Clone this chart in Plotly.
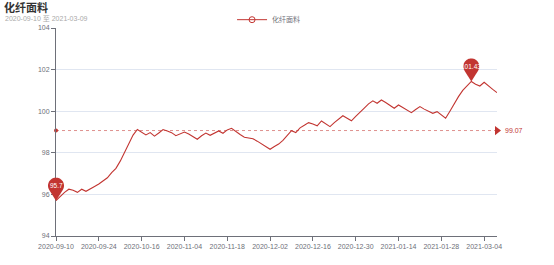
import numpy as np
import plotly.graph_objects as go

TITLE = "化纤面料"
SUBTITLE = "2020-09-10 至 2021-03-09"
SERIES_NAME = "化纤面料"

dates = [
    "2020-09-10", "2020-09-11", "2020-09-14", "2020-09-15", "2020-09-16", "2020-09-17", "2020-09-18",
    "2020-09-21", "2020-09-22", "2020-09-23", "2020-09-24",
    "2020-09-25", "2020-09-28", "2020-09-29", "2020-09-30", "2020-10-09", "2020-10-12", "2020-10-13",
    "2020-10-14", "2020-10-15", "2020-10-16",
    "2020-10-19", "2020-10-21", "2020-10-23", "2020-10-26", "2020-10-27", "2020-10-28", "2020-10-30",
    "2020-11-02", "2020-11-03", "2020-11-04",
    "2020-11-05", "2020-11-06", "2020-11-09", "2020-11-10", "2020-11-11", "2020-11-12", "2020-11-13",
    "2020-11-16", "2020-11-17", "2020-11-18",
    "2020-11-19", "2020-11-20", "2020-11-23", "2020-11-24", "2020-11-25", "2020-11-26", "2020-11-27",
    "2020-11-30", "2020-12-01", "2020-12-02",
    "2020-12-03", "2020-12-04", "2020-12-07", "2020-12-08", "2020-12-09", "2020-12-10", "2020-12-11",
    "2020-12-14", "2020-12-15", "2020-12-16",
    "2020-12-17", "2020-12-18", "2020-12-21", "2020-12-22", "2020-12-23", "2020-12-24", "2020-12-25",
    "2020-12-28", "2020-12-29", "2020-12-30",
    "2020-12-31", "2021-01-04", "2021-01-05", "2021-01-06", "2021-01-07", "2021-01-08", "2021-01-11",
    "2021-01-12", "2021-01-13", "2021-01-14",
    "2021-01-15", "2021-01-18", "2021-01-19", "2021-01-20", "2021-01-21", "2021-01-22", "2021-01-25",
    "2021-01-26", "2021-01-27", "2021-01-28",
    "2021-01-29", "2021-02-01", "2021-02-02", "2021-02-03", "2021-02-04", "2021-02-05", "2021-02-08",
    "2021-02-09", "2021-02-10", "2021-03-04",
    "2021-03-05", "2021-03-08", "2021-03-09",
]

values = [
    95.70, 95.92, 96.10, 96.25, 96.20, 96.10, 96.25, 96.15, 96.25, 96.38,
    96.50, 96.65, 96.80, 97.05, 97.25, 97.60, 98.00, 98.45, 98.85, 99.12,
    99.00, 98.86, 98.97, 98.80, 98.95, 99.12, 99.05, 98.97, 98.82, 98.90,
    99.00, 98.90, 98.78, 98.65, 98.82, 98.95, 98.84, 98.93, 99.05, 98.94,
    99.10, 99.18, 99.02, 98.88, 98.75, 98.70, 98.68, 98.56, 98.42, 98.30,
    98.17, 98.30, 98.42, 98.60, 98.85, 99.06, 98.97, 99.20, 99.32, 99.45,
    99.38, 99.30, 99.53, 99.38, 99.26, 99.45, 99.62, 99.78, 99.66, 99.54,
    99.75, 99.93, 100.15, 100.35, 100.50, 100.38, 100.54, 100.42, 100.28, 100.14,
    100.30, 100.18, 100.05, 99.93, 100.08, 100.22, 100.10, 99.98, 99.90, 99.98,
    99.82, 99.66, 100.00, 100.38, 100.70, 101.00, 101.20, 101.43, 101.30, 101.21,
    101.39, 101.20, 101.05, 100.89,
]

AVG_VALUE = 99.07
y_ticks = [94, 96, 98, 100, 102, 104]
x_tick_dates = dates[::10]
Y_MIN, Y_MAX = 94, 104

RED = "#c23531"
TXT = "#6e7079"
FONT = "Liberation Sans, Noto Sans CJK SC, sans-serif"

fig = go.Figure()

# main line
fig.add_trace(go.Scatter(
    x=dates, y=values, mode="lines", line=dict(color=RED, width=1.1),
    showlegend=False, hoverinfo="skip",
))
# legend entry
fig.add_trace(go.Scatter(
    x=[None], y=[None], mode="lines+markers", name=SERIES_NAME,
    line=dict(color=RED, width=1),
    marker=dict(symbol="circle-open", size=6, color=RED, line=dict(width=1)),
))

# average mark line
fig.add_shape(type="line", xref="paper", yref="y", x0=0, x1=1, y0=AVG_VALUE, y1=AVG_VALUE,
              line=dict(color="rgba(194,53,49,0.55)", width=1, dash="dot"), layer="above")
fig.add_trace(go.Scatter(
    x=[dates[0]], y=[AVG_VALUE], mode="markers", showlegend=False, hoverinfo="skip",
    marker=dict(symbol="circle", size=4, color=RED), cliponaxis=False,
))
fig.add_trace(go.Scatter(
    x=[dates[-1]], y=[AVG_VALUE], mode="markers", showlegend=False, hoverinfo="skip",
    marker=dict(symbol="triangle-right", size=8, color=RED), cliponaxis=False,
))

annots = [
    dict(xref="paper", yref="y", x=1, y=AVG_VALUE, text=f"{AVG_VALUE:.2f}",
         showarrow=False, xanchor="left", xshift=6,
         font=dict(size=7, color=RED, family=FONT)),
]

# pin mark points (max / min)
PIN_R, PIN_D = 8.0, 15.0
def pin_path(r=PIN_R, d=PIN_D, n=48):
    phi = np.arccos(r / d)
    start = -np.pi / 2 - phi
    end = -np.pi / 2 + phi - 2 * np.pi
    angs = np.linspace(start, end, n)
    pts = ["M 0,0"]
    for a in angs:
        pts.append(f"L {r*np.cos(a):.2f},{d + r*np.sin(a):.2f}")
    pts.append("Z")
    return " ".join(pts)

n_pts = len(dates)
imin = int(np.argmin(values))
imax = int(np.argmax(values))
for idx in (imax, imin):
    px = idx / (n_pts - 1)
    py = (values[idx] - Y_MIN) / (Y_MAX - Y_MIN)
    fig.add_shape(type="path", xref="x domain", yref="y domain",
                  xsizemode="pixel", ysizemode="pixel",
                  xanchor=px, yanchor=py, path=pin_path(),
                  fillcolor=RED, line=dict(width=0), layer="above")
    annots.append(dict(xref="x", yref="y", x=dates[idx], y=values[idx], text=f"{values[idx]:g}",
                       showarrow=False, yshift=PIN_D, xanchor="center", yanchor="middle",
                       font=dict(size=6.5, color="white", family=FONT)))

annots += [
    dict(xref="paper", yref="paper", x=-0.122, y=1.1, xanchor="left", yanchor="middle",
         text=f"<b>{TITLE}</b>", showarrow=False,
         font=dict(size=11, color="#333333", family="Noto Sans CJK SC, sans-serif")),
    dict(xref="paper", yref="paper", x=-0.12, y=1.045, xanchor="left", yanchor="middle",
         text=SUBTITLE, showarrow=False,
         font=dict(size=7, color="#aaaaaa", family=FONT)),
]

fig.update_layout(
    width=554, height=265,
    margin=dict(l=56, r=57, t=28, b=29, autoexpand=False),
    paper_bgcolor="white", plot_bgcolor="white",
    font=dict(family=FONT, size=7, color=TXT),
    legend=dict(orientation="h", x=0.482, xanchor="center", y=1.04, yanchor="middle",
                font=dict(size=7, color=TXT), itemwidth=30, bgcolor="rgba(0,0,0,0)"),
    annotations=annots,
)

fig.update_xaxes(
    type="category", categoryorder="array", categoryarray=dates,
    range=[0, len(dates) - 1],
    tickmode="array", tickvals=x_tick_dates, ticktext=x_tick_dates,
    showgrid=False, showline=True, linecolor="#6e7079", linewidth=1,
    ticks="outside", ticklen=4, tickcolor="#6e7079", tickangle=0,
    tickfont=dict(size=7, color=TXT), zeroline=False, automargin=False,
)
fig.update_yaxes(
    range=[Y_MIN, Y_MAX], tickmode="array", tickvals=y_ticks,
    showgrid=True, gridcolor="#e0e6f1", gridwidth=1,
    showline=True, linecolor="#6e7079", linewidth=1,
    ticks="outside", ticklen=4, tickcolor="#6e7079",
    tickfont=dict(size=7, color=TXT), zeroline=False, automargin=False,
)

fig.write_html("out.html")
